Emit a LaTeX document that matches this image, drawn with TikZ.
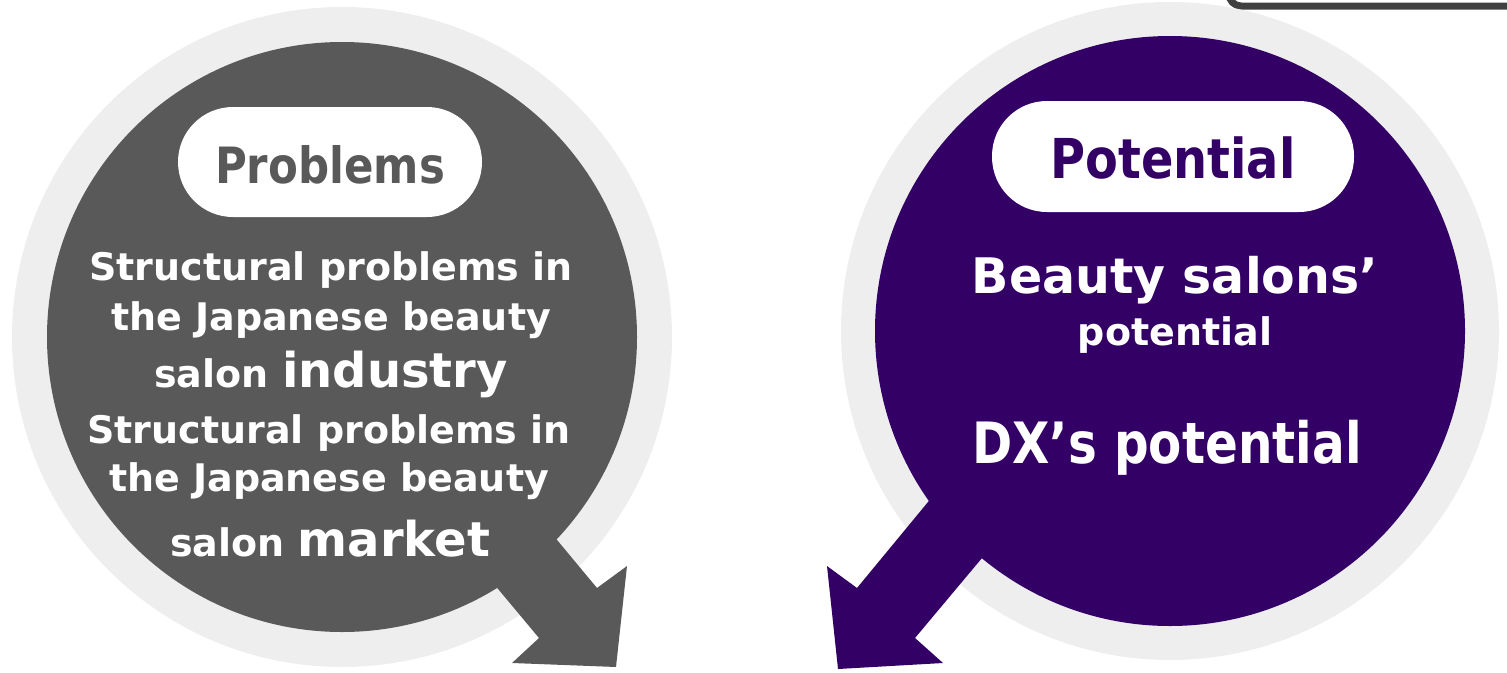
\documentclass[tikz,border=0pt]{standalone}
\usepackage{fontspec}
\setmainfont{DejaVu Sans}
\definecolor{slate}{HTML}{595959}
\definecolor{plum}{HTML}{330066}
\definecolor{halo}{HTML}{EEEEEE}
\definecolor{frameline}{HTML}{404040}
\tikzset{pill/.style={fill=white,rounded corners=55pt,inner sep=0pt,minimum height=110pt,text height=42pt,text depth=0pt,text=#1,font=\bfseries\fontsize{50}{56}\selectfont},
  body/.style={anchor=base,inner sep=0pt,text=white,font=\bfseries\fontsize{38}{44}\selectfont}}
\newcommand{\narrowtext}[2][0.87]{\scalebox{#1}[1]{#2}}

\begin{document}
\begin{tikzpicture}[x=1pt,y=-1pt]
\useasboundingbox (0,0) rectangle (1507,672);
% frame cut off at the top right
\begin{scope}
\clip (0,0) rectangle (1507,672);
\draw[frameline,line width=7pt,rounded corners=12pt] (1229,-40) rectangle (1560,6);
\end{scope}
% discs
\fill[halo] (342,337) circle (330);
\fill[halo] (1170,331) circle (329);
\fill[slate] (342,337) circle (295);
\fill[plum] (1170,331) circle (295);
% arrows
\fill[slate] (493,463) -- (597,588) -- (627,566) -- (616,667) -- (512,663) -- (539,638) -- (433,511) -- cycle;
\fill[plum] (992,425) -- (928,502) -- (857,588) -- (827,566) -- (838,669) -- (943,663) -- (915,638) -- (982,558) -- (1046,481) -- cycle;
% labels
\node[pill=slate,minimum width=304pt] (problems) at (330,162) {\narrowtext{Problems}};
\node[pill=plum,minimum width=362pt,minimum height=111pt,text height=43pt,font=\bfseries\fontsize{55}{60}\selectfont] (potential) at (1173,156.5) {\narrowtext{Potential}};
\node[body] (prob1) at (331,280) {Structural problems in};
\node[body] (prob2) at (331,330) {the Japanese beauty};
\node[body] (prob3) at (331,387) {salon {\fontsize{48}{54}\selectfont industry}};
\node[body] (prob4) at (329,443) {Structural problems in};
\node[body] (prob5) at (329,491) {the Japanese beauty};
\node[body] (prob6) at (330,556) {salon {\fontsize{48}{54}\selectfont market}};
\node[body,font=\bfseries\fontsize{49}{55}\selectfont] (pot1) at (1175,293) {Beauty salons’};
\node[body] (pot2) at (1175,345) {potential};
\node[body,font=\bfseries\fontsize{57}{62}\selectfont] (pot3) at (1167,463) {\narrowtext[0.85]{DX’s potential}};
\end{tikzpicture}
\end{document}
